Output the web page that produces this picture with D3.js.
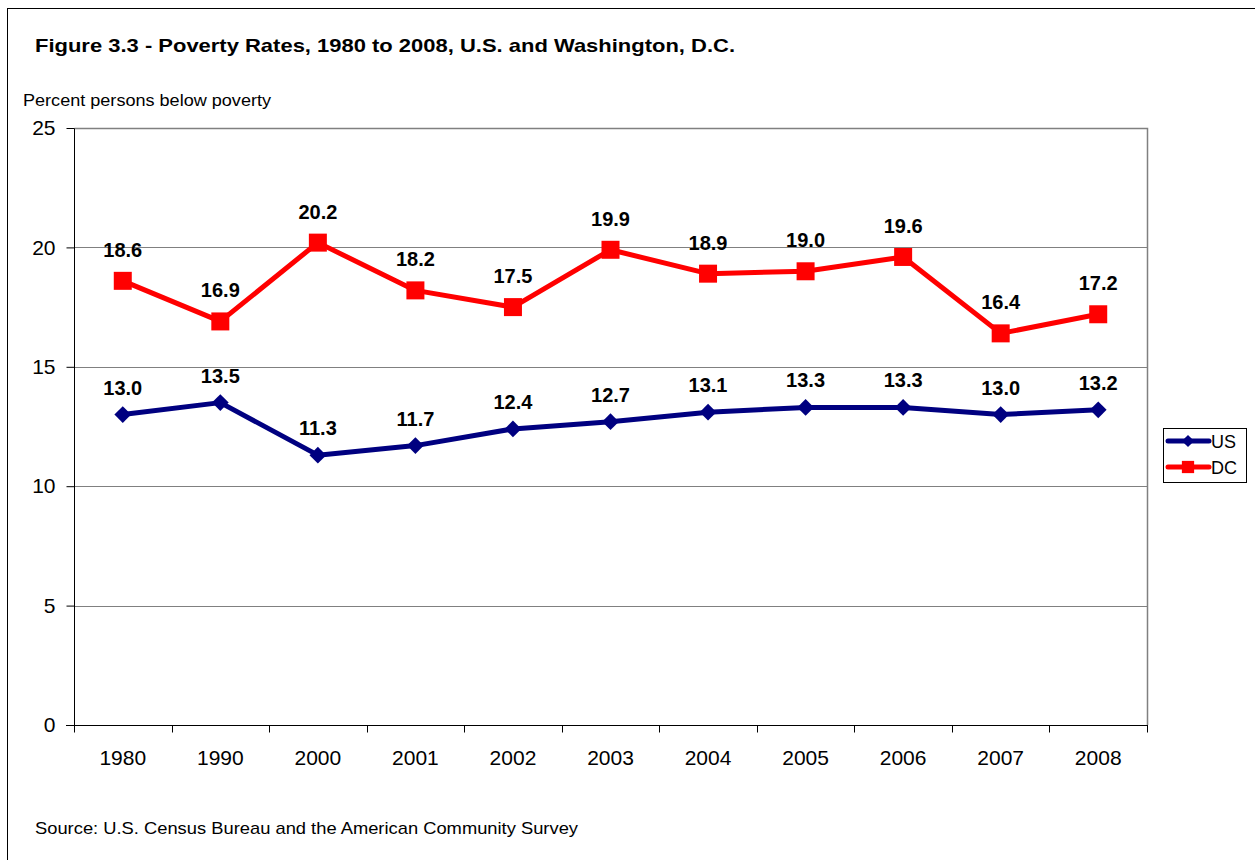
<!DOCTYPE html>
<html>
<head>
<meta charset="utf-8">
<script src="https://cdn.jsdelivr.net/npm/d3@7"></script>
<style>
  body { margin: 0; background: #fff; }
  svg { display: block; font-family: Arial, "Liberation Sans", sans-serif; }
</style>
</head>
<body>
<script>
const width = 1255;
const height = 860;
const margin = { top: 128, right: 108, bottom: 135, left: 74 };

const years = ["1980", "1990", "2000", "2001", "2002", "2003", "2004", "2005", "2006", "2007", "2008"];
const usValues = [13.0, 13.5, 11.3, 11.7, 12.4, 12.7, 13.1, 13.3, 13.3, 13.0, 13.2];
const dcValues = [18.6, 16.9, 20.2, 18.2, 17.5, 19.9, 18.9, 19.0, 19.6, 16.4, 17.2];
const yTicks = [0, 5, 10, 15, 20, 25];

const series = [
  { name: "US", values: usValues, color: "#000080", shape: "diamond", labelGap: 20 },
  { name: "DC", values: dcValues, color: "#ff0000", shape: "square", labelGap: 24 },
];

const innerW = width - margin.left - margin.right;
const innerH = height - margin.top - margin.bottom;

// rotated square, like the spreadsheet marker
const diamondSym = {
  draw(ctx, size) {
    const r = Math.sqrt(size / 2);
    ctx.moveTo(0, -r);
    ctx.lineTo(r, 0);
    ctx.lineTo(0, r);
    ctx.lineTo(-r, 0);
    ctx.closePath();
  },
};

const svg = d3.select("body").append("svg")
  .attr("width", width)
  .attr("height", height);

// outer frame
svg.append("rect")
  .attr("x", 7.5).attr("y", 8.5)
  .attr("width", 1260).attr("height", 870)
  .attr("fill", "none").attr("stroke", "#000").attr("stroke-width", 1);

svg.append("text")
  .attr("x", 35).attr("y", 52)
  .attr("font-size", 19).attr("font-weight", "bold")
  .attr("textLength", 700).attr("lengthAdjust", "spacingAndGlyphs")
  .text("Figure 3.3 - Poverty Rates, 1980 to 2008, U.S. and Washington, D.C.");

svg.append("text")
  .attr("x", 23).attr("y", 106)
  .attr("font-size", 16)
  .attr("textLength", 248).attr("lengthAdjust", "spacingAndGlyphs")
  .text("Percent persons below poverty");

svg.append("text")
  .attr("x", 35).attr("y", 834)
  .attr("font-size", 17)
  .attr("textLength", 543).attr("lengthAdjust", "spacingAndGlyphs")
  .text("Source:  U.S. Census Bureau and the American Community Survey");

const x = d3.scaleBand().domain(years).range([0, innerW]);
const y = d3.scaleLinear().domain([0, 25]).range([innerH, 0]);

const g = svg.append("g").attr("transform", `translate(${margin.left},${margin.top})`);

// gridlines
g.append("g")
  .selectAll("line")
  .data(yTicks.filter((d) => d > 0 && d < 25))
  .join("line")
  .attr("x1", 0).attr("x2", innerW)
  .attr("y1", (d) => Math.round(y(d)) + 0.5).attr("y2", (d) => Math.round(y(d)) + 0.5)
  .attr("stroke", "#808080").attr("stroke-width", 1);

// plot frame (top and right)
g.append("path")
  .attr("d", `M0.5,0.5 H${innerW + 0.5} V${innerH}`)
  .attr("fill", "none").attr("stroke", "#808080").attr("stroke-width", 1.5);

// y axis
const yAxis = g.append("g")
  .attr("transform", "translate(0.5,0)")
  .call(d3.axisLeft(y).tickValues(yTicks).tickSize(8).tickPadding(11).tickFormat(d3.format("d")));
yAxis.selectAll("text").attr("font-size", 21).attr("fill", "#000").attr("font-family", "Arial, 'Liberation Sans', sans-serif");
yAxis.selectAll("line, path").attr("stroke", "#000");
yAxis.select(".domain").attr("d", `M0,0.5V${innerH}`);

// x axis with ticks at category boundaries
const xAxis = g.append("g").attr("transform", `translate(0,${innerH + 0.5})`);
xAxis.append("line")
  .attr("x1", -8).attr("x2", innerW + 1)
  .attr("stroke", "#000").attr("stroke-width", 1.2);
xAxis.selectAll("line.tick")
  .data(d3.range(years.length + 1))
  .join("line")
  .attr("class", "tick")
  .attr("x1", (i) => Math.round(i * x.step()) + 0.5)
  .attr("x2", (i) => Math.round(i * x.step()) + 0.5)
  .attr("y1", 0).attr("y2", 7)
  .attr("stroke", "#000");
xAxis.selectAll("text")
  .data(years)
  .join("text")
  .attr("x", (d) => x(d) + x.bandwidth() / 2)
  .attr("y", 39)
  .attr("text-anchor", "middle")
  .attr("font-size", 21)
  .text((d) => d);

const cx = (i) => x(years[i]) + x.bandwidth() / 2;

const line = d3.line()
  .x((d, i) => cx(i))
  .y((d) => y(d));

const symbolPath = (shape, big) =>
  shape === "square"
    ? d3.symbol(d3.symbolSquare, big ? 324 : 150)()
    : d3.symbol(diamondSym, big ? 140 : 75)();

series.forEach((s) => {
  const sg = g.append("g");
  sg.append("path")
    .datum(s.values)
    .attr("d", line)
    .attr("fill", "none")
    .attr("stroke", s.color)
    .attr("stroke-width", 5)
    .attr("stroke-linejoin", "round");

  sg.selectAll("path.mark")
    .data(s.values)
    .join("path")
    .attr("class", "mark")
    .attr("d", symbolPath(s.shape, true))
    .attr("transform", (d, i) => `translate(${cx(i)},${y(d)})`)
    .attr("fill", s.color);

  sg.selectAll("text")
    .data(s.values)
    .join("text")
    .attr("x", (d, i) => cx(i))
    .attr("y", (d) => y(d) - s.labelGap)
    .attr("text-anchor", "middle")
    .attr("font-size", 20)
    .attr("font-weight", "bold")
    .text((d) => d3.format(".1f")(d));
});

// legend
const legend = svg.append("g").attr("transform", "translate(1163,428)");
legend.append("rect")
  .attr("x", 0.5).attr("y", 0.5)
  .attr("width", 83).attr("height", 54)
  .attr("fill", "#fff").attr("stroke", "#000").attr("stroke-width", 1);

series.forEach((s, i) => {
  const ly = 13 + i * 26;
  const row = legend.append("g").attr("transform", `translate(0,${ly})`);
  row.append("line")
    .attr("x1", 5).attr("x2", 46)
    .attr("stroke", s.color).attr("stroke-width", 5).attr("stroke-linecap", "round");
  row.append("path")
    .attr("d", symbolPath(s.shape, false))
    .attr("transform", "translate(25,0)")
    .attr("fill", s.color);
  row.append("text")
    .attr("x", 48).attr("y", 7)
    .attr("font-size", 18)
    .text(s.name);
});
</script>
</body>
</html>
